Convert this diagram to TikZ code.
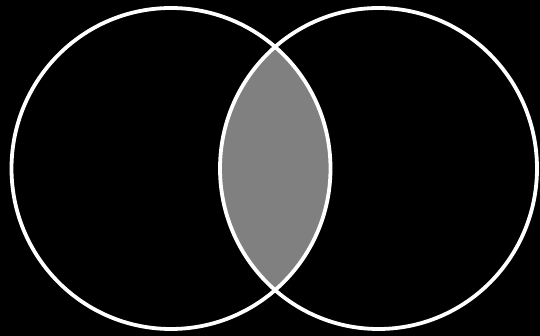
\documentclass[tikz,border=0pt]{standalone}
\usetikzlibrary{shapes.geometric}
\begin{document}
\begin{tikzpicture}[x=1pt,y=1pt,
  ring/.style={draw=white,line width=3.8pt},
  lens/.style={fill={rgb,255:red,128;green,128;blue,128}}]
\fill[black] (0,0) rectangle (540,336);
\useasboundingbox (0,0) rectangle (540,336);
\coordinate (A) at (171,167.5);
\coordinate (B) at (378.5,167.5);
\begin{scope}
  \clip (A) ellipse[x radius=159.5,y radius=160.5];
  \path[lens] (B) ellipse[x radius=158.5,y radius=160.5];
\end{scope}
\node[ring,ellipse,minimum width=319pt,minimum height=321pt,inner sep=0pt] (left) at (A) {};
\node[ring,ellipse,minimum width=317pt,minimum height=321pt,inner sep=0pt] (right) at (B) {};
\end{tikzpicture}
\end{document}
